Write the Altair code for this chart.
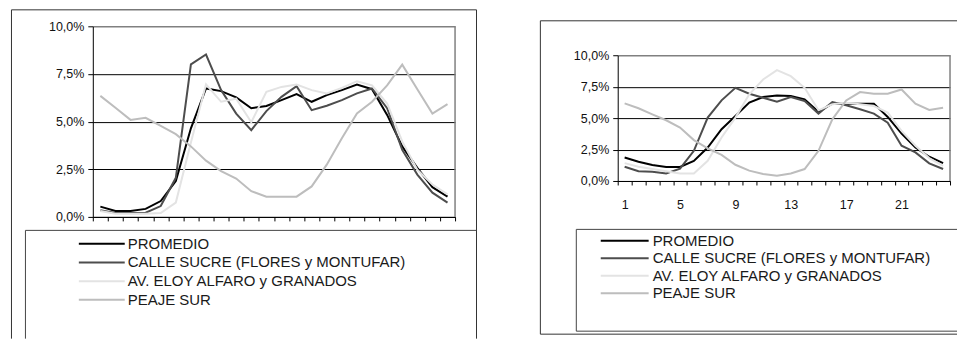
import altair as alt
import pandas as pd

# Hourly traffic share (% of the daily volume), two measurement campaigns
HOURS = list(range(1, 25))
SERIES = [
    "PROMEDIO",
    "CALLE SUCRE  (FLORES y MONTUFAR)",
    "AV.  ELOY ALFARO y GRANADOS",
    "PEAJE SUR",
]
Y_TICKS = [0, 2.5, 5, 7.5, 10]
X_LABELS = [1, 5, 9, 13, 17, 21]

# left panel
PROMEDIO_A = [0.54, 0.31, 0.31, 0.42, 0.83, 1.88, 4.65, 6.74, 6.60, 6.27, 5.70, 5.82,
              6.13, 6.44, 6.04, 6.39, 6.65, 6.94, 6.70, 5.35, 3.70, 2.57, 1.56, 1.06]
SUCRE_A = [0.35, 0.20, 0.20, 0.22, 0.57, 2.05, 8.00, 8.52, 6.65, 5.42, 4.55, 5.55,
           6.30, 6.86, 5.60, 5.83, 6.13, 6.48, 6.74, 5.70, 3.52, 2.22, 1.27, 0.75]
ELOY_A = [0.31, 0.17, 0.17, 0.17, 0.20, 0.75, 3.90, 6.96, 6.04, 6.20, 4.97, 6.56,
          6.82, 6.94, 6.65, 6.48, 6.77, 7.12, 6.90, 5.95, 3.96, 2.48, 1.70, 1.18]
PEAJE_A = [6.35, 5.73, 5.09, 5.20, 4.77, 4.34, 3.70, 2.95, 2.40, 2.01, 1.35, 1.06,
           1.06, 1.06, 1.60, 2.74, 4.13, 5.43, 6.04, 6.90, 7.99, 6.70, 5.42, 5.92]

# right panel
PROMEDIO_B = [1.87, 1.53, 1.27, 1.11, 1.11, 1.60, 2.66, 4.12, 5.17, 6.23, 6.68, 6.80,
              6.75, 6.49, 5.51, 6.15, 6.15, 6.15, 6.15, 5.09, 3.77, 2.66, 1.93, 1.42]
SUCRE_B = [1.13, 0.77, 0.74, 0.60, 0.98, 2.40, 5.04, 6.41, 7.41, 6.94, 6.62, 6.30,
           6.68, 6.36, 5.36, 6.28, 6.02, 5.70, 5.36, 4.64, 2.80, 2.27, 1.40, 0.95]
ELOY_B = [1.42, 1.13, 0.95, 0.77, 0.60, 0.60, 1.60, 3.46, 5.04, 6.89, 8.07, 8.81,
          8.34, 7.41, 5.62, 6.10, 6.23, 6.10, 5.96, 5.44, 3.98, 2.80, 1.82, 1.21]
PEAJE_B = [6.17, 5.78, 5.30, 4.83, 4.25, 3.25, 2.59, 2.08, 1.29, 0.82, 0.55, 0.42,
           0.60, 0.95, 2.40, 4.90, 6.41, 7.07, 6.94, 6.94, 7.28, 6.15, 5.65, 5.83]

COLORS = ["#000000", "#4d4d4d", "#e3e3e3", "#bdbdbd"]
FONT = "Liberation Sans"
BORDER_GRAY = "#808080"
ONE = alt.Data(values=[{}])


def to_long(columns):
    rows = []
    for name, values in zip(SERIES, columns):
        for h, v in zip(HOURS, values):
            rows.append({"hora": h, "serie": name, "pct": v})
    return pd.DataFrame(rows)


def seg(x, x2, y, y2, color="#333333", width=1):
    """Straight frame segment in panel pixel coordinates."""
    return alt.Chart(ONE).mark_rule(color=color, strokeWidth=width).encode(
        x=alt.value(x), x2=alt.value(x2), y=alt.value(y), y2=alt.value(y2)
    )


def x_axis(show_labels):
    kw = dict(title=None, tickBand="extent", labelAngle=0, tickSize=4,
              tickColor="#000000", domainColor="#000000", labelFont=FONT,
              labelFontSize=12.5, labelColor="#111111", labelPadding=14, grid=False)
    if show_labels:
        kw["labelExpr"] = f"indexof({X_LABELS}, datum.value) >= 0 ? datum.label : ''"
    else:
        kw["labels"] = False
    return alt.Axis(**kw)


Y_AXIS = alt.Axis(
    title=None, values=Y_TICKS, grid=True,
    gridColor={"condition": {"test": "datum.value === 10", "value": BORDER_GRAY}, "value": "#000000"},
    gridWidth={"condition": {"test": "datum.value === 10", "value": 1.5}, "value": 1},
    tickSize=5, tickColor="#000000", domainColor="#000000", labelPadding=4,
    labelFont=FONT, labelFontSize=12.5, labelColor="#111111",
    labelExpr="replace(format(datum.value, '.1f'), '.', ',') + '%'",
)


def legend(x, y, length, row_pad, label_off):
    return alt.Legend(
        orient="none", legendX=x, legendY=y, symbolType="stroke",
        symbolSize=length * length, symbolStrokeWidth=2, clipHeight=16,
        rowPadding=row_pad, labelFont=FONT, labelFontSize=15, labelColor="#1a1a1a",
        labelOffset=label_off, labelLimit=500, padding=0,
    )


def panel(cols, width, height, y_range, show_x_labels, leg, decorations):
    lines = alt.Chart(to_long(cols)).mark_line(strokeWidth=2).encode(
        x=alt.X("hora:O", bandPosition=0.5,
                scale=alt.Scale(type="band", paddingInner=0, paddingOuter=0),
                axis=x_axis(show_x_labels)),
        y=alt.Y("pct:Q", scale=alt.Scale(domain=[0, 10], range=y_range, nice=False),
                axis=Y_AXIS),
        color=alt.Color("serie:N", sort=SERIES,
                        scale=alt.Scale(domain=SERIES, range=COLORS),
                        legend=leg, title=None),
    )
    right_edge = seg(width, width, y_range[1], y_range[0], BORDER_GRAY, 1.5)
    return alt.layer(*decorations, right_edge, lines).properties(width=width, height=height)


# left panel: plot area 363 x 191
canvas = alt.Chart(ONE).mark_rect(opacity=0).encode(
    x=alt.value(-92), x2=alt.value(868), y=alt.value(-25), y2=alt.value(314)
)
left_frames = [
    canvas,
    seg(-81.5, 384.5, -16.5, -16.5),
    seg(-81.5, -81.5, -16.5, 313),
    seg(384.5, 384.5, -16.5, 313),
    seg(-67.5, 384.5, 204.5, 204.5, "#444444"),
    seg(-67.5, -67.5, 204.5, 313, "#444444"),
]
left = panel([PROMEDIO_A, SUCRE_A, ELOY_A, PEAJE_A], 363, 191, [191, 0], False,
             legend(-15, 210, 46, 2.7, 2), left_frames)

# right panel: plot area 333 x 126, placed 29 px lower
right_frames = [
    seg(-77.5, 340, -5.5, -5.5),
    seg(-77.5, -77.5, -5.5, 308.5),
    seg(-77.5, 340, 308.5, 308.5),
    seg(-41.5, 340, 203.5, 203.5, "#444444"),
    seg(-41.5, -41.5, 203.5, 305.5, "#444444"),
    seg(-41.5, 340, 305.5, 305.5, "#444444"),
]
right = panel([PROMEDIO_B, SUCRE_B, ELOY_B, PEAJE_B], 333, 155, [155, 29], True,
              legend(-18, 207, 48, 1.5, 3), right_frames)

chart = (
    alt.hconcat(left, right, spacing=163, bounds="flush")
    .resolve_scale(color="independent")
    .resolve_legend(color="independent")
    .configure_view(stroke="transparent")
    .properties(padding=0, autosize=alt.AutoSizeParams(type="pad"))
)

chart.save("out.html", embed_options={"renderer": "svg", "actions": False})
